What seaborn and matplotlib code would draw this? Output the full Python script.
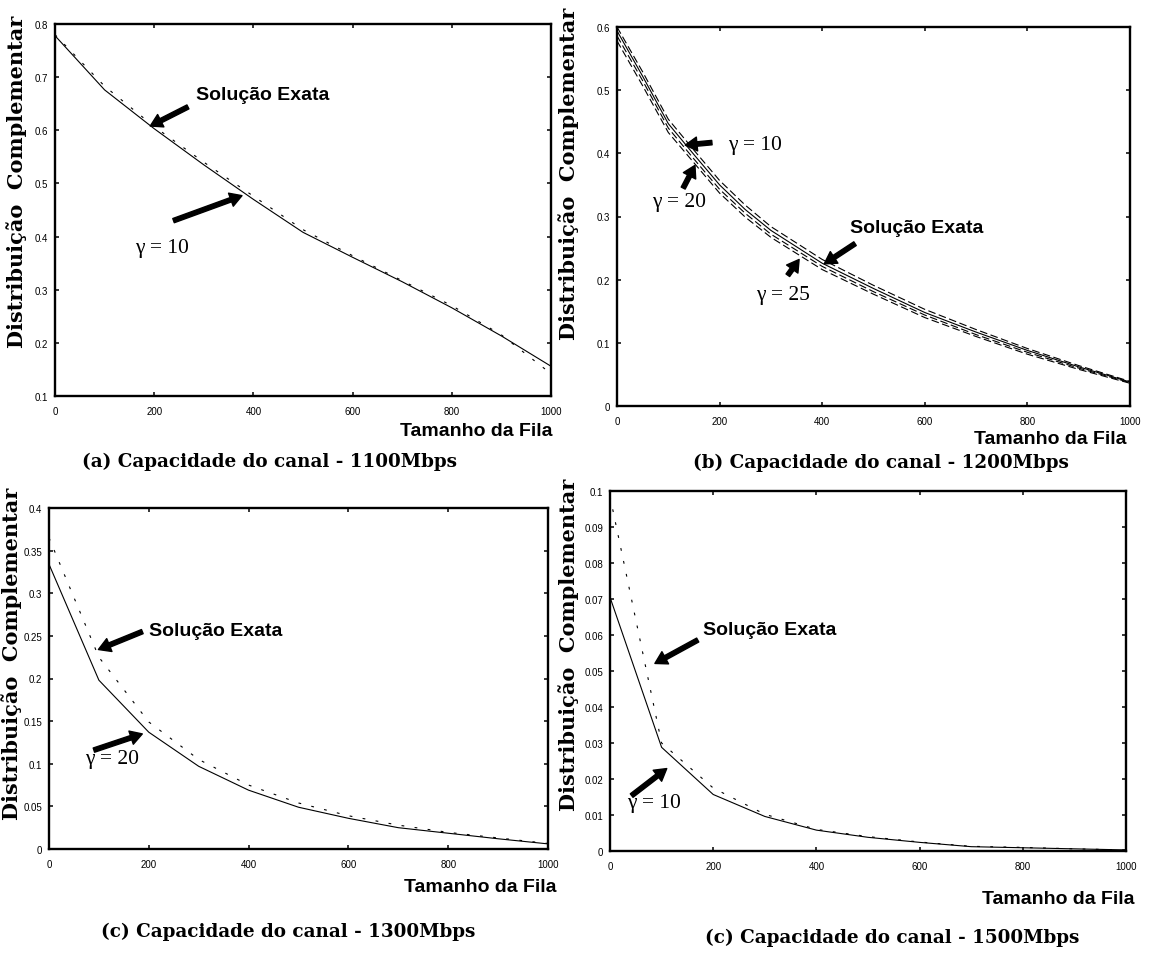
import numpy as np
import pandas as pd
import matplotlib
matplotlib.use("Agg")
import matplotlib.pyplot as plt
import seaborn as sns

# ---- data ---------------------------------------------------------------
queue_a = [0, 100, 200, 300, 400, 500, 600, 700, 800, 900, 1000]
approx_a_g10 = [0.778, 0.676, 0.603, 0.535, 0.470, 0.408, 0.361, 0.315, 0.266, 0.213, 0.156]
exact_a = [0.780, 0.683, 0.607, 0.540, 0.476, 0.413, 0.364, 0.317, 0.270, 0.215, 0.142]

queue_b = [0, 50, 100, 150, 200, 250, 300, 400, 500, 600, 700, 800, 900, 1000]
exact_b = [0.594, 0.522, 0.447, 0.398, 0.350, 0.311, 0.278, 0.226, 0.186, 0.148, 0.117, 0.088, 0.062, 0.038]
approx_b_g10 = [0.600, 0.529, 0.454, 0.405, 0.357, 0.318, 0.284, 0.232, 0.191, 0.153, 0.121, 0.091, 0.064, 0.039]
approx_b_g20 = [0.586, 0.515, 0.440, 0.391, 0.343, 0.305, 0.272, 0.221, 0.181, 0.144, 0.113, 0.085, 0.060, 0.037]
approx_b_g25 = [0.578, 0.507, 0.433, 0.385, 0.337, 0.299, 0.267, 0.216, 0.177, 0.140, 0.110, 0.082, 0.058, 0.036]

queue_c = [0, 100, 200, 300, 400, 500, 600, 700, 800, 900, 1000]
approx_c_g20 = [0.334, 0.198, 0.137, 0.097, 0.069, 0.049, 0.036, 0.025, 0.0185, 0.012, 0.006]
exact_c = [0.365, 0.225, 0.149, 0.105, 0.075, 0.054, 0.039, 0.028, 0.0195, 0.013, 0.0065]

queue_d = [0, 100, 200, 300, 400, 500, 600, 700, 800, 900, 1000]
approx_d_g10 = [0.0705, 0.0288, 0.0157, 0.0096, 0.0058, 0.0038, 0.0024, 0.0012, 0.0009, 0.0006, 0.0003]
exact_d = [0.0985, 0.0300, 0.0175, 0.0102, 0.0060, 0.0040, 0.0025, 0.0013, 0.0010, 0.0006, 0.0003]

x_ticks = [0, 200, 400, 600, 800, 1000]
y_ticks_a = [0.1, 0.2, 0.3, 0.4, 0.5, 0.6, 0.7, 0.8]
y_ticks_b = [0, 0.1, 0.2, 0.3, 0.4, 0.5, 0.6]
y_ticks_c = [0, 0.05, 0.1, 0.15, 0.2, 0.25, 0.3, 0.35, 0.4]
y_ticks_d = [0, 0.01, 0.02, 0.03, 0.04, 0.05, 0.06, 0.07, 0.08, 0.09, 0.1]

captions = ["(a) Capacidade do canal - 1100Mbps",
            "(b) Capacidade do canal - 1200Mbps",
            "(c) Capacidade do canal - 1300Mbps",
            "(c) Capacidade do canal - 1500Mbps"]
ylabel_text = "Distribuição  Complementar"
xlabel_text = "Tamanho da Fila"
exact_text = "Solução Exata"

# ---- style --------------------------------------------------------------
sns.set_theme(style="ticks")
plt.rcParams["font.family"] = ["DejaVu Sans"]
plt.rcParams["lines.scale_dashes"] = False
for key in ["text.color", "axes.labelcolor", "xtick.color", "ytick.color", "axes.edgecolor"]:
    plt.rcParams[key] = "black"

W, H = 1154, 954
fig = plt.figure(figsize=(W / 100, H / 100), dpi=100)
fig.patch.set_facecolor("white")

SERIF_BOLD = dict(family="DejaVu Serif", weight="bold", color="black")
SANS_BOLD = dict(family="Liberation Sans", weight="bold", color="black")
GREEK = dict(family="Liberation Serif", color="black")

DOTS = (0, (2.0, 7.5))
DASHES = (0, (5.5, 2.5))


def make_axes(left, right, top, bottom):
    ax = fig.add_axes([left / W, 1 - bottom / H, (right - left) / W, (bottom - top) / H])
    ax.set_facecolor("white")
    for sp in ax.spines.values():
        sp.set_visible(True)
        sp.set_linewidth(1.7)
        sp.set_color("black")
    ax.tick_params(direction="in", length=3.2, width=1.1, top=True, right=True,
                   colors="black", labelsize=7)
    ax.tick_params(axis="x", pad=7)
    ax.tick_params(axis="y", pad=5)
    ax.set_xlim(0, 1000)
    ax.set_xticks(x_ticks)
    ax.set_xticklabels([f"{t:g}" for t in x_ticks], family="Liberation Sans")
    ax.set_xlabel("")
    ax.set_ylabel("")
    return ax


def set_y(ax, ticks):
    ax.set_ylim(ticks[0], ticks[-1])
    ax.set_yticks(ticks)
    ax.set_yticklabels([f"{t:g}" for t in ticks], family="Liberation Sans")


def line(ax, x, y, style):
    sns.lineplot(x=x, y=y, ax=ax, color="black", linewidth=0.8, linestyle=style,
                 legend=False, sort=False)


def arrow(ax, tail, tip):
    ax.annotate("", xy=tip, xytext=tail,
                arrowprops=dict(facecolor="black", edgecolor="black", width=3.2,
                                headwidth=10, headlength=8.5, shrink=0.0))


def label_exact(ax, pos):
    ax.text(pos[0], pos[1], exact_text, fontsize=14, ha="left", va="center", **SANS_BOLD)


def label_gamma(ax, pos, value):
    ax.text(pos[0], pos[1], f"γ = {value}", fontsize=15.5, ha="left", va="center", **GREEK)


def fig_text(px, py, s, **kw):
    fig.text(px / W, 1 - py / H, s, **kw)


# ---- (a) 1100 Mbps ------------------------------------------------------
ax = make_axes(55, 551, 25, 397)
line(ax, queue_a, exact_a, DOTS)
line(ax, queue_a, approx_a_g10, "-")
set_y(ax, y_ticks_a)
label_exact(ax, (284, 0.668))
arrow(ax, (268, 0.644), (192, 0.608))
label_gamma(ax, (161, 0.379), 10)
arrow(ax, (239, 0.430), (377, 0.477))

# ---- (b) 1200 Mbps ------------------------------------------------------
ax = make_axes(617, 1130, 28, 407)
line(ax, queue_b, approx_b_g10, DASHES)
line(ax, queue_b, exact_b, "-")
line(ax, queue_b, approx_b_g20, DASHES)
line(ax, queue_b, approx_b_g25, DASHES)
set_y(ax, y_ticks_b)
label_gamma(ax, (217, 0.414), 10)
arrow(ax, (185, 0.417), (133, 0.413))
label_gamma(ax, (69, 0.324), 20)
arrow(ax, (129, 0.345), (152, 0.381))
label_exact(ax, (454, 0.283))
arrow(ax, (464, 0.257), (404, 0.225))
label_gamma(ax, (272, 0.177), 25)
arrow(ax, (333, 0.207), (355, 0.232))

# ---- (c) 1300 Mbps ------------------------------------------------------
ax = make_axes(49, 548, 509, 850)
line(ax, queue_c, exact_c, DOTS)
line(ax, queue_c, approx_c_g20, "-")
set_y(ax, y_ticks_c)
label_exact(ax, (201, 0.256))
arrow(ax, (187, 0.255), (99, 0.234))
label_gamma(ax, (72, 0.1066), 20)
arrow(ax, (90, 0.116), (187, 0.135))

# ---- (d) 1500 Mbps ------------------------------------------------------
ax = make_axes(610, 1126, 492, 852)
line(ax, queue_d, exact_d, DOTS)
line(ax, queue_d, approx_d_g10, "-")
set_y(ax, y_ticks_d)
label_exact(ax, (181, 0.0614))
arrow(ax, (170, 0.0586), (87, 0.0521))
label_gamma(ax, (33, 0.0136), 10)
arrow(ax, (42, 0.0154), (110, 0.0229))

# ---- shared labels and captions -----------------------------------------
for cx, cy in [(17, 182), (569, 174), (12, 654), (569, 645)]:
    fig_text(cx, cy, ylabel_text, rotation=90, ha="center", va="center",
             fontsize=15, **SERIF_BOLD)

for rx, cy in [(553, 432), (1126, 440), (557, 888), (1134, 900)]:
    fig_text(rx, cy, xlabel_text, ha="right", va="center", fontsize=14, **SANS_BOLD)

for (cx, cy), cap in zip([(270, 462), (881, 463), (288, 932), (892, 938)], captions):
    fig_text(cx, cy, cap, ha="center", va="center", fontsize=13.2, **SERIF_BOLD)

fig.savefig("out.png", dpi=100, facecolor="white")
